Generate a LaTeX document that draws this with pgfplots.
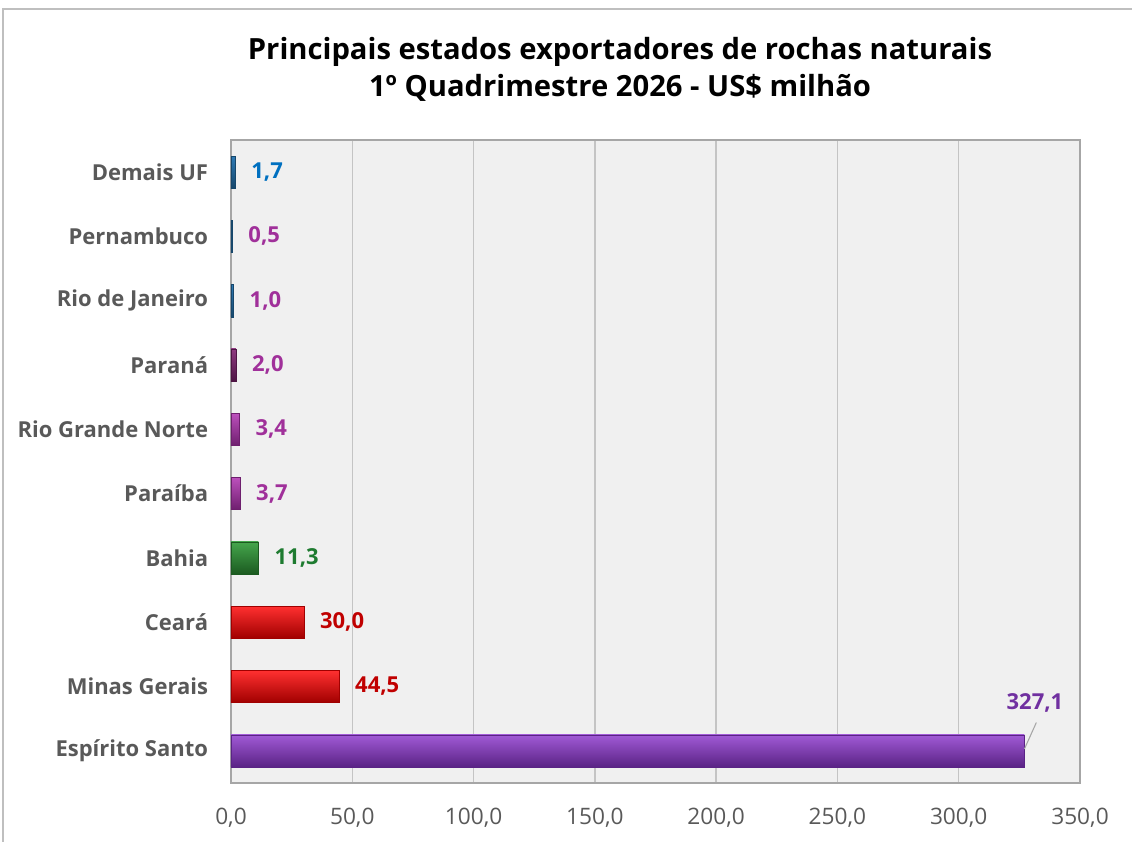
\documentclass[border=0pt]{standalone}
\usepackage{pgfplots}
\pgfplotsset{compat=1.18}
\usepackage{fontspec}
\setmainfont{Open Sans}
\definecolor{frameGray}{HTML}{BFBFBF}
\definecolor{bgGray}{HTML}{F0F0F0}
\definecolor{borderGray}{HTML}{A6A6A6}
\definecolor{gridGray}{HTML}{C4C4C4}
\definecolor{txtGray}{HTML}{595959}
% bars
\definecolor{purM}{HTML}{7B33B3}\definecolor{purT}{HTML}{A15AD6}\definecolor{purB}{HTML}{5A2385}
\definecolor{redM}{HTML}{E00000}\definecolor{redT}{HTML}{FF3030}\definecolor{redB}{HTML}{A00000}
\definecolor{grnM}{HTML}{2A7F32}\definecolor{grnT}{HTML}{45A64C}\definecolor{grnB}{HTML}{1B5A20}
\definecolor{magM}{HTML}{9A2D9A}\definecolor{magT}{HTML}{BC50BC}\definecolor{magB}{HTML}{6E1F6E}
\definecolor{prnM}{HTML}{6E2060}\definecolor{prnT}{HTML}{8E3A80}\definecolor{prnB}{HTML}{4E1544}
\definecolor{bluM}{HTML}{1F5C8C}\definecolor{bluT}{HTML}{2E7AB5}\definecolor{bluB}{HTML}{17476B}
% labels
\definecolor{blueLab}{HTML}{0070C0}
\definecolor{magLab}{HTML}{A0309A}
\definecolor{greenLab}{HTML}{1E7B30}
\definecolor{redLab}{HTML}{C00000}
\definecolor{purLab}{HTML}{7030A0}
\pgfplotsset{
  barR/.style n args={4}{bar shift=0pt, draw=#3, top color=#1, middle color=#2, bottom color=#3,
    nodes near coords style={text=#4}},
}
\begin{document}
\begin{tikzpicture}
\useasboundingbox (0,0) rectangle (849pt,631.5pt);
\draw[frameGray, line width=1.5pt] (2.6pt,-1pt) -- (2.6pt,625.1pt) -- (850pt,625.1pt);
\node[font=\bfseries\fontsize{21.9}{26}\selectfont, anchor=base, inner sep=0pt] at (465pt,587pt) {Principais estados exportadores de rochas naturais};
\node[font=\bfseries\fontsize{21.9}{26}\selectfont, anchor=base, inner sep=0pt] at (465pt,559pt) {1º Quadrimestre 2026 - US\$ milhão};
\begin{axis}[
  at={(173.25pt,44.25pt)}, anchor=south west,
  width=636.75pt, height=482.25pt, scale only axis,
  xbar, bar width=0.5,
  xmin=0, xmax=350, ymin=-0.5, ymax=9.5,
  xtick={0,50,...,350},
  ytick={0,...,9},
  yticklabels={Espírito Santo, Minas Gerais, Ceará, Bahia, Paraíba, Rio Grande Norte, Paraná, Rio de Janeiro, Pernambuco, Demais UF},
  axis background/.style={fill=bgGray},
  axis line style={draw=borderGray, line width=1pt},
  xmajorgrids, grid style={gridGray, line width=1pt},
  major tick length=0pt,
  /pgf/number format/.cd, fixed, fixed zerofill, precision=1, use comma, 1000 sep={}, assume math mode=true,
  /pgfplots/.cd,
  xticklabel style={font=\fontsize{17}{20}\selectfont, text=txtGray, anchor=north, inner sep=0pt, yshift=-18.5pt},
  yticklabel style={font=\bfseries\fontsize{16.5}{19}\selectfont, text=txtGray, anchor=east, inner sep=0pt, xshift=-17pt},
  nodes near coords,
  nodes near coords style={anchor=west, inner sep=0pt, xshift=12pt, font=\bfseries\fontsize{16.5}{19}\selectfont},
]
\addplot[barR={purT}{purM}{purB}{purLab},
  nodes near coords style={anchor=center, xshift=-4.1pt, yshift=36pt}]
  coordinates {(327.1,0)};
\addplot[barR={redT}{redM}{redB}{redLab}] coordinates {(44.5,1)};
\addplot[barR={redT}{redM}{redB}{redLab}] coordinates {(30.0,2)};
\addplot[barR={grnT}{grnM}{grnB}{greenLab}] coordinates {(11.3,3)};
\addplot[barR={magT}{magM}{magB}{magLab}] coordinates {(3.7,4)};
\addplot[barR={magT}{magM}{magB}{magLab}] coordinates {(3.4,5)};
\addplot[barR={prnT}{prnM}{prnB}{magLab}] coordinates {(2.0,6)};
\addplot[barR={bluT}{bluM}{bluB}{magLab}] coordinates {(1.0,7)};
\addplot[barR={bluT}{bluM}{bluB}{magLab}] coordinates {(0.5,8)};
\addplot[barR={bluT}{bluM}{bluB}{blueLab}] coordinates {(1.7,9)};
\draw[borderGray, line width=0.8pt] (axis cs:327.1,0.03) -- (axis cs:332.0,0.44);
\end{axis}
\end{tikzpicture}
\end{document}
